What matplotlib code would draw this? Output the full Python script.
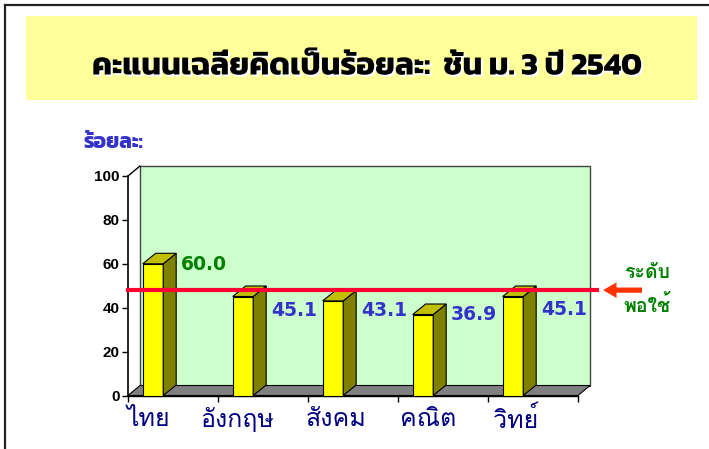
import matplotlib
matplotlib.use("Agg")
import matplotlib.pyplot as plt
from matplotlib import font_manager
from matplotlib.patches import Rectangle, Polygon, ArrowStyle
from matplotlib.lines import Line2D
import matplotlib.patheffects as pe

# ---------------- data ----------------
title = "คะแนนเฉลี่ยคิดเป็นร้อยละ:  ชั้น ม. 3 ปี 2540"
ylabel = "ร้อยละ:"
categories = ["ไทย", "อังกฤษ", "สังคม", "คณิต", "วิทย์"]
values = [60.0, 45.1, 43.1, 36.9, 45.1]
value_labels = ["60.0", "45.1", "43.1", "36.9", "45.1"]
threshold = 48
threshold_lines = ["ระดับ", "พอใช้"]
yticks = [0, 20, 40, 60, 80, 100]

# ---------------- fonts ----------------
installed = {f.name for f in font_manager.fontManager.ttflist}
def pick(names, default="DejaVu Sans"):
    for n in names:
        if n in installed:
            return n
    return default

F_TITLE = pick(["Kanit", "Mitr", "Prompt"])
F_THAI = pick(["Loma", "Noto Sans Thai Looped", "Sarabun", "Noto Sans Thai"])
F_NUM = "DejaVu Sans"
F_TICK = pick(["Liberation Sans", "Arial"])

# ---------------- layout ----------------
W, H = 709, 449
fig = plt.figure(figsize=(W / 100, H / 100), dpi=100)

def fx(px):
    return px / W
def fy(py):
    return 1 - py / H

# outer frame
fig.add_artist(Line2D([fx(5), fx(5)], [fy(5), fy(449)], color="#222222", lw=1.6))
fig.add_artist(Line2D([fx(5), fx(709)], [fy(5), fy(5)], color="#222222", lw=1.6))

# title box
fig.add_artist(Rectangle((fx(26), fy(100)), fx(697) - fx(26), fy(16) - fy(100),
                         transform=fig.transFigure, facecolor="#FFFF99", edgecolor="none"))
fig.text(fx(366), fy(67), title, ha="center", va="center", fontsize=22.6,
         family=[F_TITLE, "DejaVu Sans"], weight="bold", color="black",
         path_effects=[pe.withSimplePatchShadow(offset=(1.5, -1.5), shadow_rgbFace="white", alpha=1.0)])

# y-axis title
fig.text(fx(113), fy(143), ylabel, ha="center", va="center", fontsize=15,
         family=[F_TITLE, "DejaVu Sans"], weight="bold", color="#3333CC")

# axes: front plane, x in category units 0..5, y in value units 0..100
x_left, x_right = 128, 578
y_zero, y_hundred = 395.5, 176
ax = fig.add_axes([fx(x_left), fy(y_zero), fx(x_right) - fx(x_left), fy(y_hundred) - fy(y_zero)])
ax.set_xlim(0, len(categories))
ax.set_ylim(0, 100)
ax.patch.set_visible(False)
for s in ["top", "right"]:
    ax.spines[s].set_visible(False)
ax.spines["left"].set_linewidth(1.2)
ax.spines["bottom"].set_linewidth(1.0)
ax.set_yticks(yticks)
ax.set_yticklabels([str(t) for t in yticks], fontfamily=F_TICK, fontweight="bold", fontsize=11)
ax.set_xticks(range(len(categories) + 1))
ax.set_xticklabels([])
ax.tick_params(axis="y", length=4, width=1, pad=2)
ax.tick_params(axis="x", length=4, width=1)

px_per_x = (x_right - x_left) / len(categories)
px_per_y = (y_zero - y_hundred) / 100.0
wdx, wdy = 12 / px_per_x, 10 / px_per_y     # wall depth
bdx, bdy = 13 / px_per_x, 10.5 / px_per_y   # bar depth
n = len(categories)

# back wall
ax.add_patch(Polygon([(wdx, wdy), (n + wdx, wdy), (n + wdx, 100 + wdy), (wdx, 100 + wdy)],
                     closed=True, facecolor="#CCFFCC", edgecolor="#444444", lw=1.0,
                     clip_on=False, zorder=1))
# floor
ax.add_patch(Polygon([(0, 0), (n, 0), (n + wdx, wdy), (wdx, wdy)],
                     closed=True, facecolor="#808080", edgecolor="black", lw=0.8,
                     clip_on=False, zorder=1.5))
# top diagonal of axis
ax.add_line(Line2D([0, wdx], [100, 100 + wdy], color="black", lw=1.0, clip_on=False, zorder=2))

# bars
off, bw = 0.163, 0.228
for i, v in enumerate(values):
    x0 = i + off
    ax.add_patch(Rectangle((x0, 0), bw, v, facecolor="#FFFF00", edgecolor="black", lw=0.8,
                           zorder=3, clip_on=False))
    ax.add_patch(Polygon([(x0 + bw, 0), (x0 + bw + bdx, bdy), (x0 + bw + bdx, v + bdy), (x0 + bw, v)],
                         closed=True, facecolor="#808000", edgecolor="black", lw=0.8,
                         zorder=3, clip_on=False))
    ax.add_patch(Polygon([(x0, v), (x0 + bw, v), (x0 + bw + bdx, v + bdy), (x0 + bdx, v + bdy)],
                         closed=True, facecolor="#C0C000", edgecolor="black", lw=0.8,
                         zorder=3, clip_on=False))

# value labels (placed beside each bar)
label_x_off = 0.59
label_y = [59.6, 38.6, 38.6, 37.0, 39.0]
label_colors = ["#008000", "#3333CC", "#3333CC", "#3333CC", "#3333CC"]
for i, (lab, ly, c) in enumerate(zip(value_labels, label_y, label_colors)):
    ax.text(i + label_x_off, ly, lab, ha="left", va="center", fontsize=13.5,
            family=F_NUM, weight="bold", color=c, zorder=5, clip_on=False)

# category labels
cat_label_off = [0.225, 0.213, 0.313, 0.336, 0.313]
for i, (cat, o) in enumerate(zip(categories, cat_label_off)):
    ax.text(i + o, -0.109, cat, transform=ax.get_xaxis_transform(), ha="center", va="center",
            fontsize=18, family=[F_THAI, "DejaVu Sans"], color="#000080", clip_on=False)

# threshold line
line_end = (597 - x_left) / px_per_x
ax.add_line(Line2D([0, line_end], [threshold, threshold], color="#FF0033", lw=3,
                   clip_on=False, zorder=6))

# arrow
ax.annotate("", xy=((603 - x_left) / px_per_x, threshold), xytext=((642 - x_left) / px_per_x, threshold),
            arrowprops=dict(arrowstyle=ArrowStyle.Simple(head_length=0.65, head_width=0.75, tail_width=0.25),
                            mutation_scale=15, color="#FF3300", shrinkA=0, shrinkB=0, lw=0),
            annotation_clip=False, zorder=6)

for txt, ty in zip(threshold_lines, [273, 306]):
    fig.text(fx(647), fy(ty), txt, ha="center", va="center", fontsize=14,
             family=[F_THAI, "DejaVu Sans"], weight="bold", color="#008000")

fig.savefig("out.png", dpi=100)
